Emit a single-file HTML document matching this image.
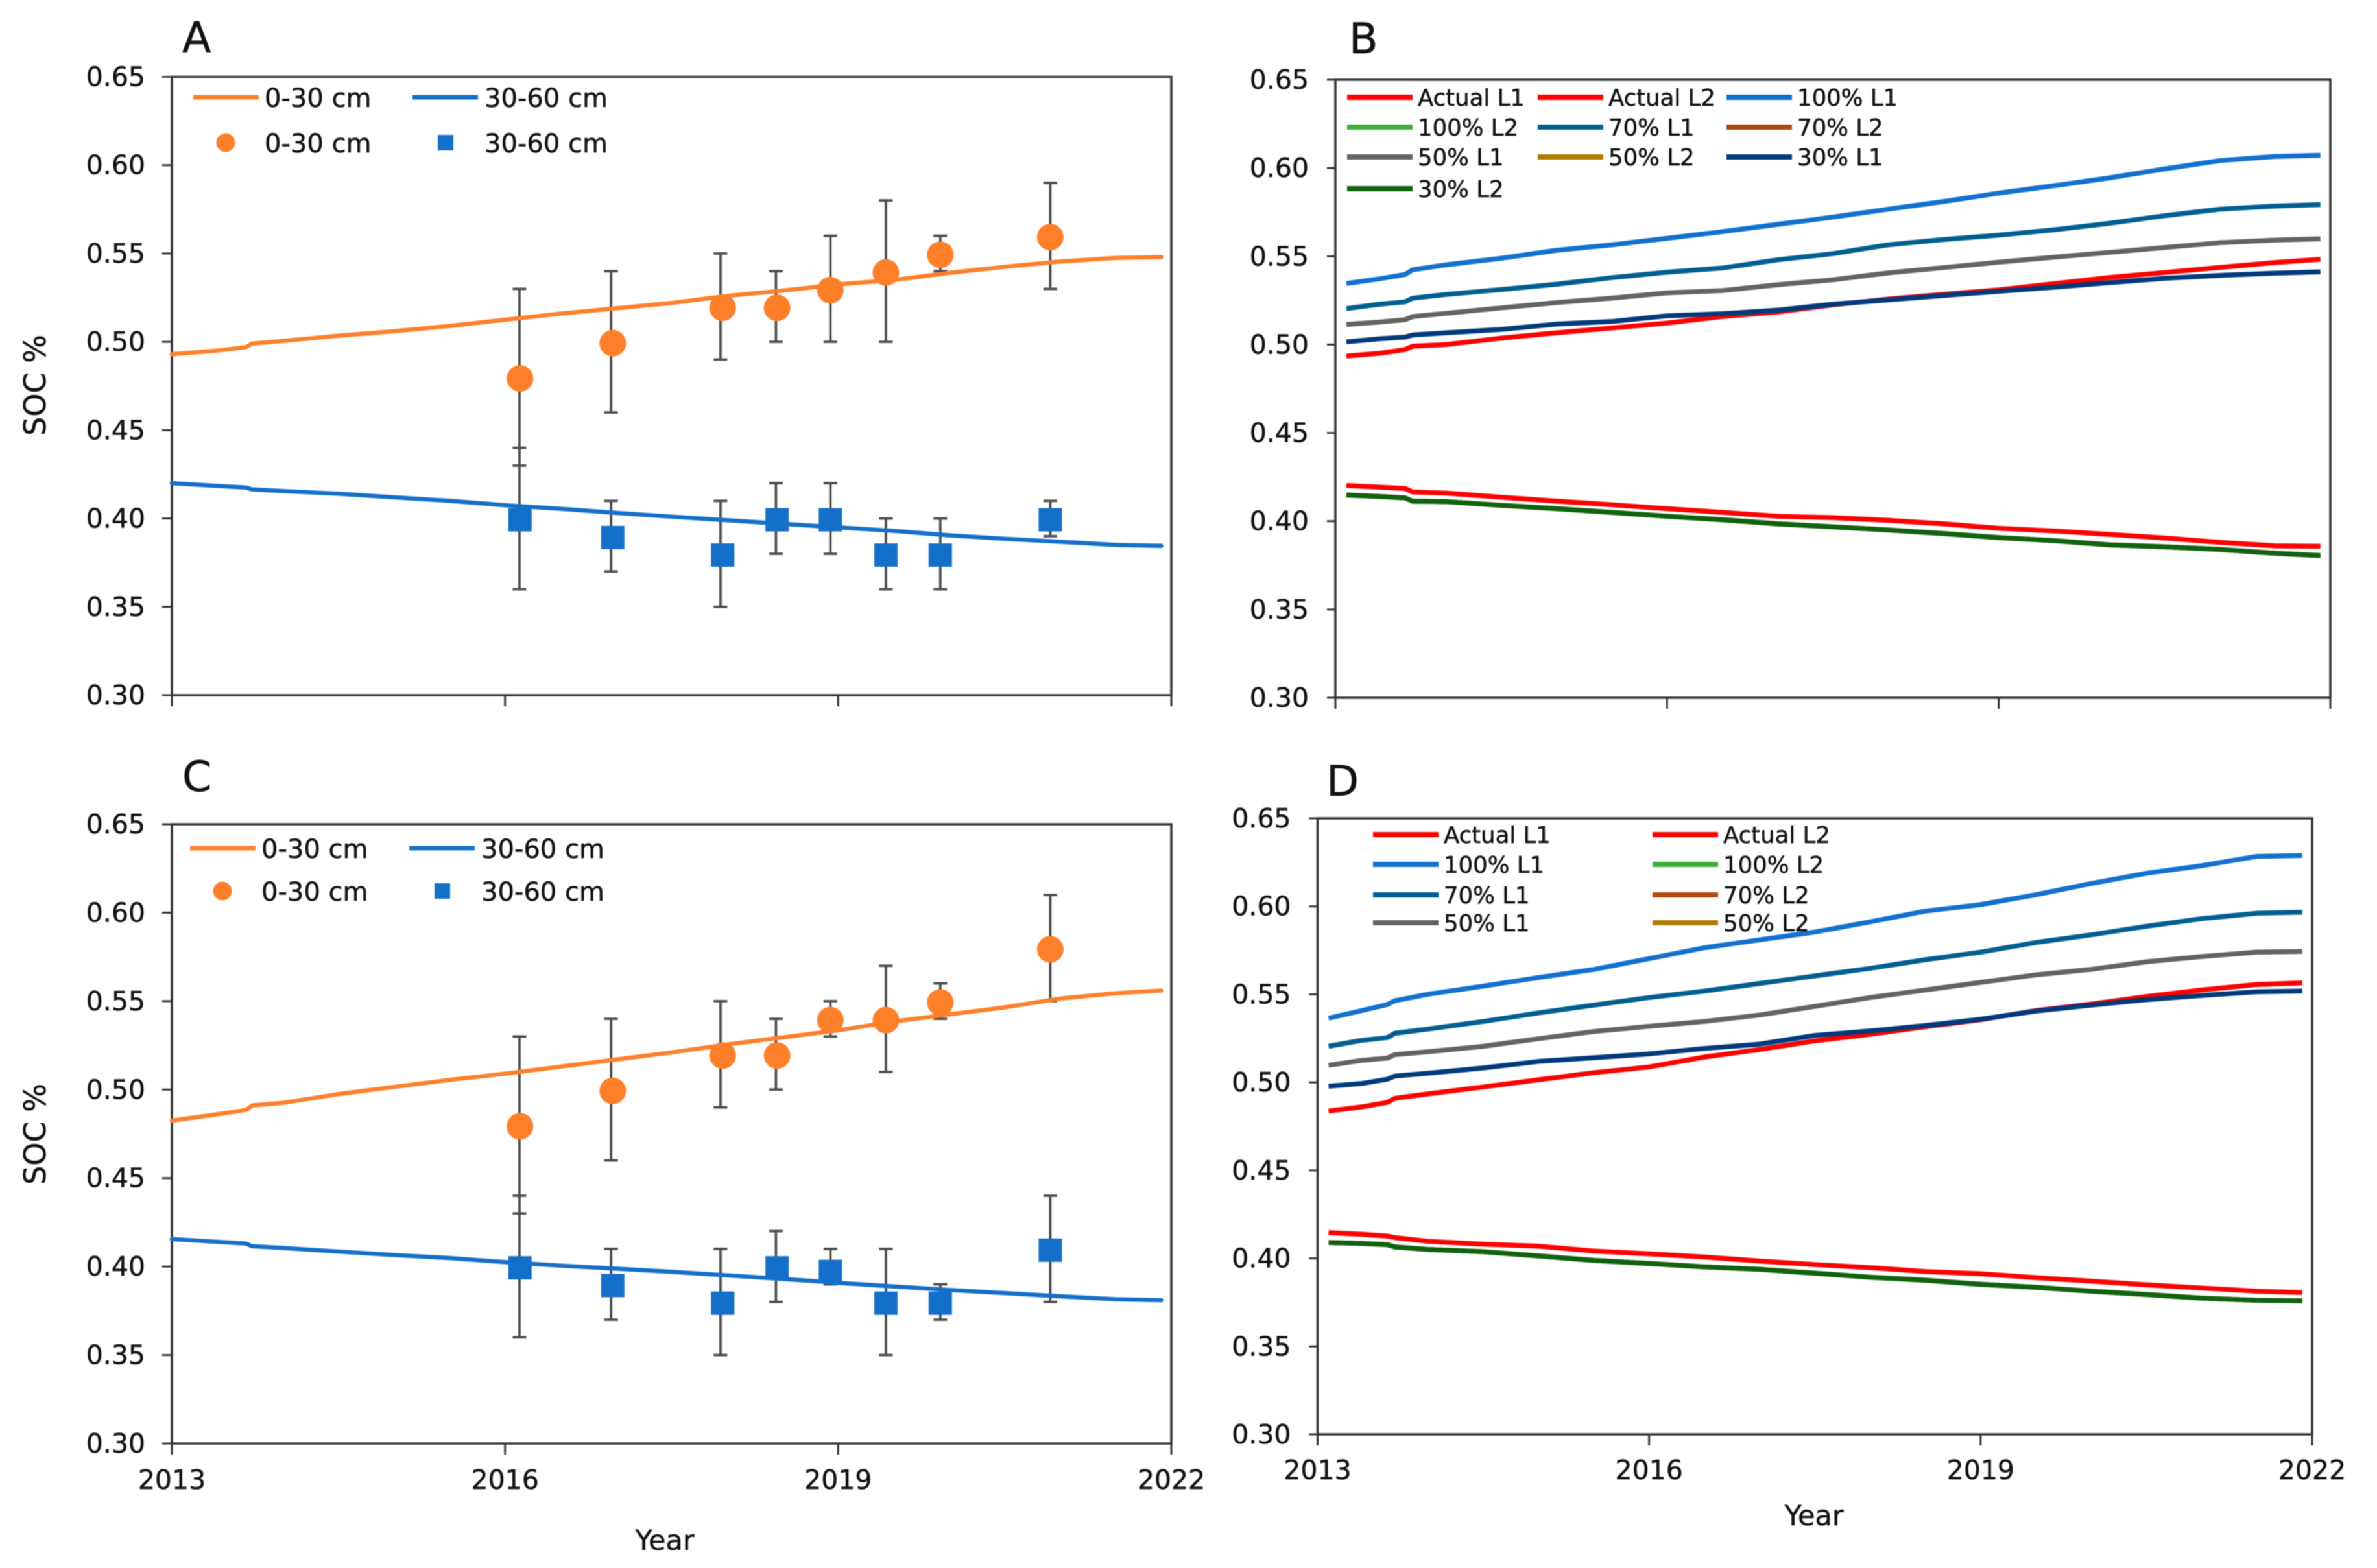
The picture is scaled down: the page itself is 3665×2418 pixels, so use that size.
<!DOCTYPE html>
<html lang="en">
<head>
<meta charset="utf-8">
<title>SOC % by year, panels A to D</title>
<style>
html,body{margin:0;padding:0;background:#fff;width:3665px;height:2418px;overflow:hidden}
svg{display:block;filter:blur(.8px)}
text{font-family:"DejaVu Sans","Liberation Sans",sans-serif;fill:#111;stroke:#111;stroke-width:.5px}
</style>
</head>
<body>
<svg id="fig" xmlns="http://www.w3.org/2000/svg" width="3665" height="2418" viewBox="0 0 3665 2418"></svg>
<script>
/* ---------- shared axis labels ---------- */
const yTicks = [0.30, 0.35, 0.40, 0.45, 0.50, 0.55, 0.60, 0.65];
const xTicks = [2013, 2016, 2019, 2022];

/* ---------- simulated lines in panels A and C ---------- */
const simYearsAC = [2013,2013.4,2013.67,2013.72,2014,2014.5,2015,2015.5,2016,2016.5,2017,2017.5,2018,2018.5,2019,2019.5,2020,2020.5,2021,2021.5,2021.91];
const aLine030 = [.493,.495,.497,.499,.5005,.5035,.506,.509,.5125,.516,.519,.522,.526,.529,.5325,.535,.539,.5425,.5455,.5475,.548];
const aLine3060 = [.42,.4185,.4175,.4165,.4155,.414,.412,.41,.4075,.4055,.4032,.401,.399,.397,.395,.393,.3905,.3885,.3868,.385,.3845];
const cLine030 = [.4825,.486,.4885,.491,.4925,.4975,.5015,.5055,.509,.513,.517,.521,.5255,.5295,.5335,.5385,.5425,.5465,.5515,.5545,.556];
const cLine3060 = [.4155,.414,.413,.4115,.4105,.4085,.4065,.4048,.4025,.4005,.3988,.397,.395,.393,.3908,.3888,.3868,.385,.3832,.3815,.381];

/* ---------- observations in panels A and C ---------- */
const obsYears = [2016.135,2016.97,2017.96,2018.45,2018.93,2019.43,2019.92,2020.91];
const errYears = [2016.13,2016.955,2017.94,2018.44,2018.93,2019.43,2019.92,2020.91];
const aObs030 = [.48,.50,.52,.52,.53,.54,.55,.56];
const aHigh030 = [.53,.54,.55,.54,.56,.58,.56,.59];
const aLow030 = [.43,.46,.49,.50,.50,.50,.54,.53];
const aObs3060 = [.40,.39,.38,.40,.40,.38,.38,.40];
const aHigh3060 = [.44,.41,.41,.42,.42,.40,.40,.41];
const aLow3060 = [.36,.37,.35,.38,.38,.36,.36,.39];
const cObs030 = [.48,.50,.52,.52,.54,.54,.55,.58];
const cHigh030 = [.53,.54,.55,.54,.55,.57,.56,.61];
const cLow030 = [.43,.46,.49,.50,.53,.51,.54,.55];
const cObs3060 = [.40,.39,.38,.40,.398,.38,.38,.41];
const cHigh3060 = [.44,.41,.41,.42,.41,.41,.39,.44];
const cLow3060 = [.36,.37,.35,.38,.39,.35,.37,.38];

/* ---------- scenario lines in panels B and D ---------- */
const simYearsBD = [2013.1,2013.4,2013.63,2013.7,2014,2014.5,2015,2015.5,2016,2016.5,2017,2017.5,2018,2018.5,2019,2019.5,2020,2020.5,2021,2021.5,2021.91];
const bActualL1 = [.4935,.4951,.4972,.4991,.5,.5037,.5067,.5094,.5122,.5159,.5185,.5225,.5258,.5285,.531,.5345,.538,.5408,.5437,.5465,.5483];
const bActualL2 = [.4202,.4193,.4185,.4165,.4159,.4136,.4114,.4093,.4071,.405,.4028,.402,.4005,.3985,.396,.3945,.3925,.3905,.388,.386,.3858];
const b100L1 = [.5346,.5373,.5397,.5424,.5452,.5489,.5534,.5565,.5602,.564,.5681,.5722,.5767,.581,.5858,.59,.5944,.5995,.6042,.6066,.6072];
const b70L1 = [.5204,.5229,.5242,.5263,.5284,.5312,.5342,.5379,.541,.5434,.548,.5515,.5565,.5595,.562,.565,.5687,.573,.5767,.5785,.5793];
const b50L1 = [.5114,.5128,.5141,.5159,.5177,.5208,.5238,.5263,.5293,.5306,.5339,.5367,.5406,.5436,.5467,.5495,.5522,.555,.5577,.5592,.5599];
const b30L1 = [.5016,.5033,.5043,.5055,.5067,.5086,.5116,.5131,.5163,.5175,.5195,.5229,.5253,.5278,.5302,.5325,.5351,.5375,.5392,.5405,.5412];
const bReducedL2 = [.4148,.414,.4132,.4113,.4111,.409,.4071,.405,.4028,.4008,.3985,.3968,.395,.393,.3907,.389,.3866,.3855,.384,.3818,.3805];
const dActualL1 = [.4837,.4861,.4886,.491,.4935,.4974,.5015,.5055,.5088,.5144,.5187,.5236,.5273,.5316,.5356,.5408,.5445,.5488,.5525,.5556,.5565];
const dActualL2 = [.4146,.4137,.4127,.4118,.4097,.4081,.4069,.4042,.4026,.4008,.3985,.3965,.3948,.3925,.3913,.3891,.3871,.385,.3832,.3814,.3806];
const d100L1 = [.5365,.5408,.5442,.5464,.5501,.5547,.5596,.5642,.5703,.5765,.581,.5854,.5912,.5973,.601,.6066,.613,.6188,.6231,.6284,.6289];
const d70L1 = [.5205,.5239,.5254,.5279,.5303,.5346,.5395,.5439,.5482,.5519,.5562,.5605,.5648,.5697,.574,.5795,.5838,.5887,.593,.5961,.5967];
const d50L1 = [.5097,.5125,.5138,.5158,.5174,.5205,.5248,.5289,.5319,.5346,.5383,.5432,.5482,.5525,.5568,.5611,.5642,.5685,.5715,.574,.5744];
const d30L1 = [.4978,.4994,.5018,.5036,.5052,.5082,.5119,.514,.5162,.5193,.5217,.5267,.5292,.5323,.5359,.5405,.5439,.547,.5494,.5515,.5519];
const dReducedL2 = [.409,.4085,.4078,.4065,.4051,.4038,.4014,.3989,.3971,.3952,.3938,.3916,.3893,.3876,.3853,.3836,.3814,.3795,.3774,.3762,.3759];

/* ---------- colours ---------- */
const ORANGE = '#fe7f2a', BLUE = '#146fcb', AXIS = '#333333', ERR = '#4d4d4d';
const cRed = '#ff0000', c100L1 = '#1270d0', c100L2 = '#3cae3c', c70L1 = '#005f90', c70L2 = '#b0480c',
      c50L1 = '#636363', c50L2 = '#b07c00', c30L1 = '#003a7c', c30L2 = '#0f620f';
const MARKER_DY = 2;

const svg = document.getElementById('fig');
const NS = 'http://www.w3.org/2000/svg';
function mk(parent, tag, attrs, txt) {
  const e = document.createElementNS(NS, tag);
  for (const k in attrs) e.setAttribute(k, attrs[k]);
  if (txt !== undefined) e.textContent = txt;
  parent.appendChild(e);
  return e;
}
function scales(box) {
  return {
    x: yr => box.x0 + (yr - 2013) / 9 * (box.x1 - box.x0),
    y: v => box.y1 - (v - 0.30) / 0.35 * (box.y1 - box.y0)
  };
}
function linePath(s, years, values) {
  return values.map((v, i) => (i ? 'L' : 'M') + s.x(years[i]).toFixed(1) + ' ' + s.y(v).toFixed(1)).join(' ');
}

function drawFrame(id, box, letter, lx, ly) {
  const g = mk(svg, 'g', {});
  
  
  const s = scales(box);

  const t = mk(g, 'text', {x: lx, y: ly, 'font-size': 65}, letter);
  
  

  const frame = mk(g, 'rect', {x: box.x0, y: box.y0, width: box.x1 - box.x0, height: box.y1 - box.y0, fill: 'none', stroke: AXIS, 'stroke-width': 3.5});
  
  

  yTicks.forEach(v => {
    const tk = mk(g, 'line', {x1: box.x0 - box.tick, x2: box.x0, y1: s.y(v), y2: s.y(v), stroke: AXIS, 'stroke-width': 3});
    
    
    const lb = mk(g, 'text', {x: box.x0 - box.labelGap, y: s.y(v) + 14, 'font-size': 41, 'text-anchor': 'end'}, v.toFixed(2));
    
    
  });
  xTicks.forEach(yr => {
    const tk = mk(g, 'line', {x1: s.x(yr), x2: s.x(yr), y1: box.y1, y2: box.y1 + 17, stroke: AXIS, 'stroke-width': 3});
    
    
    if (box.xLabelY) {
      const lb = mk(g, 'text', {x: s.x(yr), y: box.xLabelY, 'font-size': 41, 'text-anchor': 'middle'}, String(yr));
      
      
    }
  });
  if (box.xTitle) {
    const xt = mk(g, 'text', {x: box.xTitle[0], y: box.xTitle[1], 'font-size': 43, 'text-anchor': 'middle'}, 'Year');
    
    
  }
  if (box.yTitleY) {
    const yt = mk(g, 'text', {x: 0, y: 0, 'font-size': 46, 'text-anchor': 'middle', transform: 'translate(70 ' + box.yTitleY + ') rotate(-90)'}, 'SOC %');
    
    
  }
  return {g, s};
}

function drawObservedPanel(id, box, letter, lx, ly, line030, line3060, o030, hi030, lo030, o3060, hi3060, lo3060, leg) {
  const {g, s} = drawFrame(id, box, letter, lx, ly);
  /* error bars */
  [[o030, hi030, lo030, '0-30'], [o3060, hi3060, lo3060, '30-60']].forEach(set => {
    errYears.forEach((yr, i) => {
      const x = s.x(yr), yh = s.y(set[1][i]), yl = s.y(set[2][i]);
      const eb = mk(g, 'path', {d: 'M' + x + ' ' + yh + 'V' + yl + 'M' + (x - 10.5) + ' ' + yh + 'h21M' + (x - 10.5) + ' ' + yl + 'h21', fill: 'none', stroke: ERR, 'stroke-width': 3.8});
      
      
    });
  });
  /* lines */
  const l1 = mk(g, 'path', {d: linePath(s, simYearsAC, line030), fill: 'none', stroke: ORANGE, 'stroke-width': 6.5, 'stroke-linejoin': 'round', 'stroke-linecap': 'round'});
  
  
  const l2 = mk(g, 'path', {d: linePath(s, simYearsAC, line3060), fill: 'none', stroke: BLUE, 'stroke-width': 6.5, 'stroke-linejoin': 'round', 'stroke-linecap': 'round'});
  
  
  /* markers */
  o030.forEach((v, i) => {
    const c = mk(g, 'circle', {cx: s.x(obsYears[i]), cy: s.y(v) + MARKER_DY, r: 20.5, fill: ORANGE});
    
    
  });
  o3060.forEach((v, i) => {
    const r = mk(g, 'rect', {x: s.x(obsYears[i]) - 18, y: s.y(v) - 18 + MARKER_DY, width: 36, height: 36, fill: BLUE});
    
    
  });
  /* legend */
  const lg = mk(g, 'g', {});
  
  
  const e1 = mk(lg, 'line', {x1: leg.x1, x2: leg.x1 + 101, y1: leg.y1, y2: leg.y1, stroke: ORANGE, 'stroke-width': 7});
  
  
  const e2 = mk(lg, 'line', {x1: leg.x2, x2: leg.x2 + 101, y1: leg.y1, y2: leg.y1, stroke: BLUE, 'stroke-width': 7});
  
  
  const e3 = mk(lg, 'circle', {cx: leg.x1 + 50, cy: leg.y2, r: 14.5, fill: ORANGE});
  
  
  const e4 = mk(lg, 'rect', {x: leg.x2 + 39, y: leg.y2 - 12, width: 24, height: 24, fill: BLUE});
  
  
  [[leg.x1 + 110, leg.y1, '0-30 cm'], [leg.x2 + 111, leg.y1, '30-60 cm'], [leg.x1 + 110, leg.y2, '0-30 cm'], [leg.x2 + 111, leg.y2, '30-60 cm']].forEach(a => {
    const tx = mk(lg, 'text', {x: a[0], y: a[1] + 15, 'font-size': 40}, a[2]);
    
    
  });
}

function drawScenarioPanel(id, box, letter, lx, ly, series, legend) {
  const {g, s} = drawFrame(id, box, letter, lx, ly);
  series.forEach(sr => {
    const p = mk(g, 'path', {d: linePath(s, simYearsBD, sr.values), fill: 'none', stroke: sr.color, 'stroke-width': 7.5, 'stroke-linejoin': 'round', 'stroke-linecap': 'butt'});
    
    
  });
  const lg = mk(g, 'g', {});
  
  
  legend.entries.forEach((en, i) => {
    const col = i % legend.cols.length, row = Math.floor(i / legend.cols.length);
    const x = legend.cols[col], y = legend.rows[row];
    const ln = mk(lg, 'line', {x1: x, x2: x + 101, y1: y, y2: y, stroke: en[1], 'stroke-width': 8});
    
    
    const tx = mk(lg, 'text', {x: x + 109, y: y + 13, 'font-size': 35.5}, en[0]);
    
    
  });
}

/* Panel A */
drawObservedPanel('a', {x0: 265, x1: 1806, y0: 118.5, y1: 1072, tick: 15, labelGap: 41, yTitleY: 594},
  'A', 281, 80, aLine030, aLine3060, aObs030, aHigh030, aLow030, aObs3060, aHigh3060, aLow3060,
  {x1: 298, x2: 636, y1: 150, y2: 220});

/* Panel B */
drawScenarioPanel('b', {x0: 2059, x1: 3593, y0: 123, y1: 1076, tick: 13, labelGap: 41},
  'B', 2080, 82, [
    {name: 'Actual L1', color: cRed, values: bActualL1},
    {name: 'Actual L2', color: cRed, values: bActualL2},
    {name: '100% L1', color: c100L1, values: b100L1},
    {name: '100% L2', color: c100L2, values: bReducedL2},
    {name: '70% L1', color: c70L1, values: b70L1},
    {name: '70% L2', color: c70L2, values: bReducedL2},
    {name: '50% L1', color: c50L1, values: b50L1},
    {name: '50% L2', color: c50L2, values: bReducedL2},
    {name: '30% L1', color: c30L1, values: b30L1},
    {name: '30% L2', color: c30L2, values: bReducedL2}
  ], {cols: [2077, 2371, 2662], rows: [150, 196, 242, 291], entries: [
    ['Actual L1', cRed], ['Actual L2', cRed], ['100% L1', c100L1],
    ['100% L2', c100L2], ['70% L1', c70L1], ['70% L2', c70L2],
    ['50% L1', c50L1], ['50% L2', c50L2], ['30% L1', c30L1],
    ['30% L2', c30L2]
  ]});

/* Panel C */
drawObservedPanel('c', {x0: 265, x1: 1806, y0: 1271, y1: 2226, tick: 15, labelGap: 41, xLabelY: 2296, xTitle: [1025, 2390], yTitleY: 1749},
  'C', 281, 1220, cLine030, cLine3060, cObs030, cHigh030, cLow030, cObs3060, cHigh3060, cLow3060,
  {x1: 293, x2: 631, y1: 1308, y2: 1374});

/* Panel D */
drawScenarioPanel('d', {x0: 2031.5, x1: 3565, y0: 1262, y1: 2212, tick: 13, labelGap: 41, xLabelY: 2281, xTitle: [2797, 2352]},
  'D', 2045, 1227, [
    {name: 'Actual L1', color: cRed, values: dActualL1},
    {name: 'Actual L2', color: cRed, values: dActualL2},
    {name: '100% L1', color: c100L1, values: d100L1},
    {name: '100% L2', color: c100L2, values: dReducedL2},
    {name: '70% L1', color: c70L1, values: d70L1},
    {name: '70% L2', color: c70L2, values: dReducedL2},
    {name: '50% L1', color: c50L1, values: d50L1},
    {name: '50% L2', color: c50L2, values: dReducedL2},
    {name: '30% L1', color: c30L1, values: d30L1},
    {name: '30% L2', color: c30L2, values: dReducedL2}
  ], {cols: [2117, 2548], rows: [1287, 1333, 1380, 1423], entries: [
    ['Actual L1', cRed], ['Actual L2', cRed],
    ['100% L1', c100L1], ['100% L2', c100L2],
    ['70% L1', c70L1], ['70% L2', c70L2],
    ['50% L1', c50L1], ['50% L2', c50L2]
  ]});
</script>
</body>
</html>
